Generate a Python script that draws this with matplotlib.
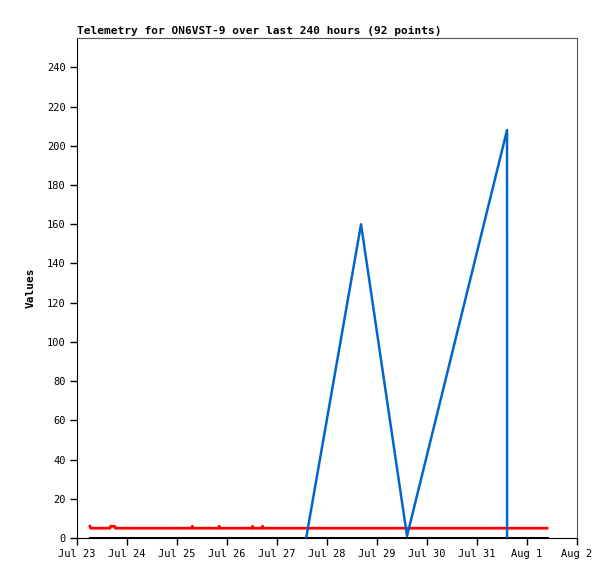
import matplotlib
matplotlib.use("Agg")
import matplotlib.pyplot as plt
import matplotlib.dates as mdates
import pandas as pd

title = "Telemetry for ON6VST-9 over last 240 hours (92 points)"
ylabel = "Values"

red_times = ["2024-07-23 06:15", "2024-07-23 06:30", "2024-07-23 15:50", "2024-07-23 16:10",
             "2024-07-23 18:00", "2024-07-23 18:20", "2024-07-25 07:00", "2024-07-25 07:20",
             "2024-07-25 07:40", "2024-07-25 20:00", "2024-07-25 20:15", "2024-07-25 20:30",
             "2024-07-26 12:00", "2024-07-26 12:15", "2024-07-26 12:30", "2024-07-26 16:50",
             "2024-07-26 17:05", "2024-07-26 17:20", "2024-08-01 09:36"]
red_values = [6, 5, 5, 6, 6, 5, 5, 6, 5, 5, 6, 5, 5, 6, 5, 5, 6, 5, 5]

blue_times = ["2024-07-27 14:00", "2024-07-28 16:20", "2024-07-29 14:25",
              "2024-07-31 14:25", "2024-07-31 14:26"]
blue_values = [0, 160, 1, 208, 0]

black_times = ["2024-07-23 06:15", "2024-08-01 09:36"]
black_values = [0, 0]

x_start, x_end = "2024-07-23", "2024-08-02"
y_max = 255
y_ticks = list(range(0, 241, 20))

fig = plt.figure(figsize=(6.15, 5.79), dpi=100)
ax = fig.add_axes([77/615, 41/579, 500/615, 500/579])

font = "DejaVu Sans Mono"
ax.plot(pd.to_datetime(black_times), black_values, color="black", lw=2.2, zorder=2)
ax.plot(pd.to_datetime(red_times), red_values, color="#ff0000", lw=2.0, zorder=3)
ax.plot(pd.to_datetime(blue_times), blue_values, color="#0066cc", lw=1.8, zorder=4)

ax.set_xlim(pd.Timestamp(x_start), pd.Timestamp(x_end))
ax.set_ylim(0, y_max)
ax.set_yticks(y_ticks)
ax.xaxis.set_major_locator(mdates.DayLocator())
ax.xaxis.set_major_formatter(mdates.DateFormatter("%b %-d"))
ax.tick_params(direction="out", length=5, width=1, labelsize=7.5, colors="black", pad=3)
for lab in ax.get_xticklabels() + ax.get_yticklabels():
    lab.set_fontfamily(font)
ax.spines["top"].set_color("#555555")
ax.spines["right"].set_color("#555555")
ax.spines["left"].set_color("black")
ax.spines["bottom"].set_color("black")
ax.set_ylabel(ylabel, fontfamily=font, fontsize=8, fontweight="bold", labelpad=8)
ax.set_title(title, loc="left", fontfamily=font, fontsize=8, fontweight="bold", pad=3)

fig.savefig("out.png", dpi=100)
